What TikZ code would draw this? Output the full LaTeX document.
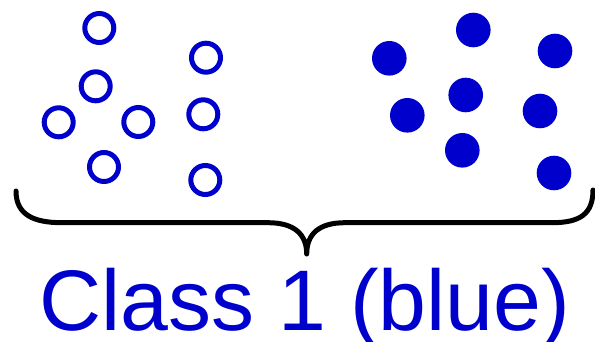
\documentclass[tikz,border=0pt]{standalone}
\usepackage{fontspec}
\setmainfont{Liberation Sans}
\definecolor{classblue}{RGB}{0,0,204}
\begin{document}
\begin{tikzpicture}[x=1pt,y=-1pt,
  ring/.style={circle,draw=classblue,line width=5pt,minimum size=29pt,inner sep=0pt},
  dot/.style={circle,fill=classblue,minimum size=34.6pt,inner sep=0pt},
  bracestroke/.style={draw=black,line width=5pt,line cap=round,line join=round},
  caption/.style={text=classblue,anchor=base,inner sep=0pt,font=\fontsize{86}{100}\selectfont}]
\useasboundingbox (0,0) rectangle (595,342);

% open points
\node[ring] (o1) at (99.3,28) {};
\node[ring] (o2) at (95.7,86.3) {};
\node[ring] (o3) at (58.7,122.3) {};
\node[ring] (o4) at (138.3,122) {};
\node[ring] (o5) at (104,167) {};
\node[ring] (o6) at (206,57.7) {};
\node[ring] (o7) at (203.3,114.3) {};
\node[ring] (o8) at (205.3,180) {};

% filled points
\node[dot] (f1) at (389.3,58.3) {};
\node[dot] (f2) at (473.3,30) {};
\node[dot] (f3) at (555,51) {};
\node[dot] (f4) at (465.7,95) {};
\node[dot] (f5) at (407.3,115.3) {};
\node[dot] (f6) at (540,111) {};
\node[dot] (f7) at (462.3,150.3) {};
\node[dot] (f8) at (554,173) {};

% curly brace under both groups
\coordinate (bl) at (16,191);
\coordinate (tip) at (306.7,254);
\coordinate (br) at (593,190);
\path[bracestroke] (bl) .. controls (16,215) and (34,222.7) .. (62,222.7)
  -- (268,222.7) .. controls (294,222.7) and (306.7,234) .. (tip)
  .. controls (306.7,234) and (319,222.7) .. (345,222.7)
  -- (552,222.7) .. controls (580,222.7) and (593,214) .. (br);

\node[caption] (label) at (305,330) {Class 1 (blue)};
\end{tikzpicture}
\end{document}
